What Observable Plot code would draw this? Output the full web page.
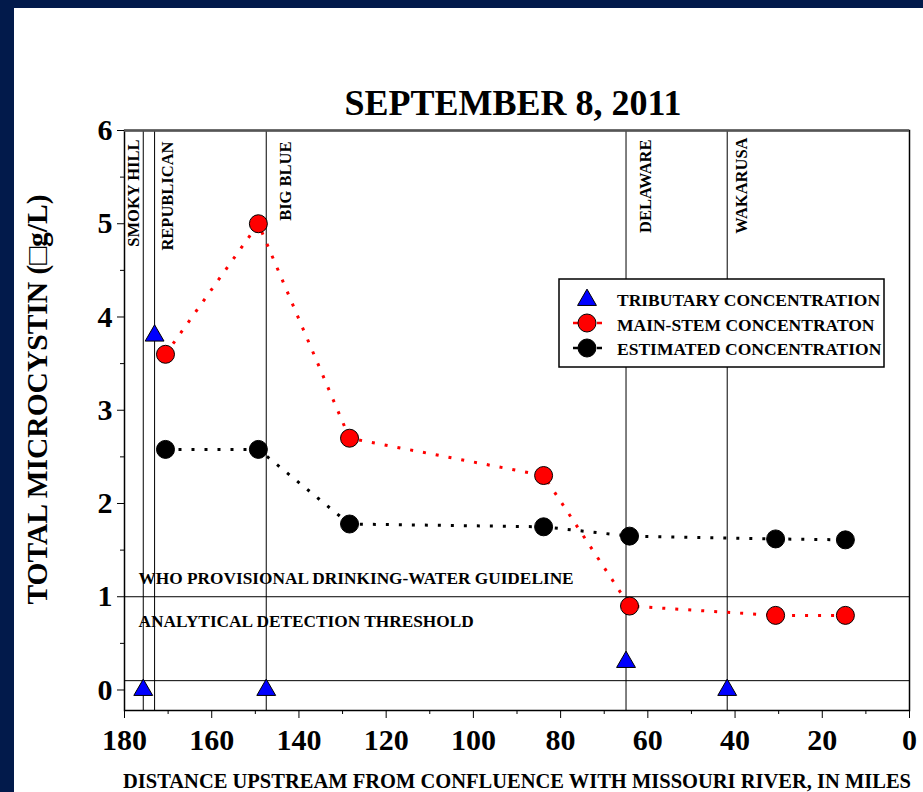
<!DOCTYPE html>
<html><head><meta charset="utf-8">
<script src="https://cdn.jsdelivr.net/npm/d3@7"></script>
<script src="https://cdn.jsdelivr.net/npm/@observablehq/plot@0.6"></script>
<style>
body{margin:0;background:#021a4b;width:923px;height:792px;overflow:hidden;position:relative}
#chart{position:absolute;left:14px;top:8px;width:909px;height:784px;background:#fff}
#chart svg{background:#fff}
</style></head><body><div id="chart"></div>
<script>
const titleText = "SEPTEMBER 8, 2011";
const yLabel = "TOTAL MICROCYSTIN (\u25A1g/L)";
const xLabel = "DISTANCE UPSTREAM FROM CONFLUENCE WITH MISSOURI RIVER, IN MILES";

const riverNames = ["SMOKY HILL", "REPUBLICAN", "BIG BLUE", "DELAWARE", "WAKARUSA"];
const riverMiles = [175.7, 173.1, 147.5, 65.0, 41.8];

const tribMiles = [175.7, 173.1, 147.5, 65.0, 41.8];
const tribValues = [0, 3.8, 0, 0.3, 0];

const mainMiles = [170.6, 149.3, 128.4, 83.9, 64.2, 30.7, 14.7];
const mainValues = [3.6, 5.0, 2.7, 2.3, 0.9, 0.8, 0.8];

const estMiles = [170.6, 149.3, 128.4, 83.9, 64.2, 30.7, 14.7];
const estValues = [2.58, 2.58, 1.78, 1.75, 1.65, 1.62, 1.61];

const guideValues = [1, 0.1];
const guideLabels = ["WHO PROVISIONAL DRINKING-WATER GUIDELINE", "ANALYTICAL DETECTION THRESHOLD"];

const xTicks = [180, 160, 140, 120, 100, 80, 60, 40, 20, 0];
const xMinor = [170, 150, 130, 110, 90, 70, 50, 30, 10];
const yTicks = [0, 1, 2, 3, 4, 5, 6];
const yMinor = [0.5, 1.5, 2.5, 3.5, 4.5, 5.5];

const legendLabels = ["TRIBUTARY CONCENTRATION", "MAIN-STEM CONCENTRATON", "ESTIMATED CONCENTRATION"];

const FONT = "'Liberation Serif', 'Times New Roman', serif";
const trib = tribMiles.map((m, i) => ({m, v: tribValues[i]}));
const main = mainMiles.map((m, i) => ({m, v: mainValues[i]}));
const est = estMiles.map((m, i) => ({m, v: estValues[i]}));
const labelDx = [-10, 13, 19, 20, 15];
const labelDy = [9, 11, 11, 9, 7];

const svg = Plot.plot({
  width: 909, height: 784,
  marginLeft: 110, marginRight: 14, marginTop: 122, marginBottom: 82,
  style: {fontFamily: FONT, fontWeight: "bold", color: "black", background: "white", overflow: "visible"},
  x: {domain: [180, 0]},
  y: {domain: [-0.22, 6]},
  marks: [
    Plot.ruleX(riverMiles, {stroke: "black", strokeWidth: 1}),
    Plot.ruleY(guideValues, {stroke: "black", strokeWidth: 1}),
    ...riverNames.map((name, i) => Plot.text([name], {
      x: [riverMiles[i]], frameAnchor: "top", rotate: -90, textAnchor: "end", lineAnchor: "middle",
      dx: labelDx[i], dy: labelDy[i], fontSize: 16.5, fontWeight: "bold", fill: "black"
    })),
    Plot.text([guideLabels[0]], {y: [guideValues[0]], frameAnchor: "left", textAnchor: "start", dx: 14, dy: -18, fontSize: 17.3, fontWeight: "bold", fill: "black"}),
    Plot.text([guideLabels[1]], {y: [guideValues[0]], frameAnchor: "left", textAnchor: "start", dx: 14, dy: 25, fontSize: 17.3, fontWeight: "bold", fill: "black"}),
    Plot.line(main, {x: "m", y: "v", stroke: "#ff0000", strokeWidth: 3, strokeDasharray: "3,10", strokeLinecap: "butt"}),
    Plot.line(est, {x: "m", y: "v", stroke: "black", strokeWidth: 3, strokeDasharray: "3,10", strokeLinecap: "butt"}),
    Plot.dot(est, {x: "m", y: "v", r: 9, fill: "black", stroke: "black", strokeWidth: 1}),
    Plot.dot(main, {x: "m", y: "v", r: 9, fill: "#ff0000", stroke: "black", strokeWidth: 1}),
    Plot.dot(trib, {x: "m", y: "v", r: 7, symbol: "triangle", fill: "#0000ff", stroke: "black", strokeWidth: 1}),
    Plot.frame({stroke: "black", strokeWidth: 1.5}),
    Plot.ruleY([6], {stroke: "#555", strokeWidth: 2.5}),
    Plot.axisX({ticks: xTicks, tickSize: 8, tickPadding: 10, fontSize: 30, fontWeight: "bold", label: null, tickFormat: d => String(d)}),
    Plot.axisX({ticks: xMinor, tickSize: 4, text: null, label: null}),
    Plot.axisY({ticks: yTicks, tickSize: 7, tickPadding: 5, fontSize: 30, fontWeight: "bold", label: null, tickFormat: d => String(d)}),
    Plot.axisY({ticks: yMinor, tickSize: 4, text: null, label: null}),
    Plot.text([titleText], {frameAnchor: "top", lineAnchor: "middle", dy: -27, dx: -4, fontSize: 36, fontWeight: "bold", fill: "black"}),
    Plot.text([yLabel], {frameAnchor: "left", textAnchor: "middle", lineAnchor: "middle", rotate: -90, dx: -87, dy: -21, fontSize: 29.5, fontWeight: "bold", fill: "black"}),
    Plot.text([xLabel], {frameAnchor: "bottom", lineAnchor: "middle", dy: 71, fontSize: 20.5, fontWeight: "bold", fill: "black"})
  ]
});
document.getElementById("chart").appendChild(svg);

// legend
const g = d3.select(svg).append("g").attr("font-family", FONT).attr("font-weight", "bold").attr("text-anchor", "start");
g.append("rect").attr("x", 545).attr("y", 271).attr("width", 325).attr("height", 88)
  .attr("fill", "white").attr("stroke", "black").attr("stroke-width", 1.5);
const sym = d3.symbol().type(d3.symbolTriangle).size(Math.PI * 49);
g.append("path").attr("d", sym()).attr("transform", "translate(573,292)")
  .attr("fill", "#0000ff").attr("stroke", "black");
g.append("line").attr("x1", 559).attr("x2", 591).attr("y1", 315).attr("y2", 315)
  .attr("stroke", "#ff0000").attr("stroke-width", 2.5).attr("stroke-dasharray", "5,3");
g.append("circle").attr("cx", 573).attr("cy", 315).attr("r", 9).attr("fill", "#ff0000").attr("stroke", "black");
g.append("line").attr("x1", 559).attr("x2", 591).attr("y1", 340).attr("y2", 340)
  .attr("stroke", "black").attr("stroke-width", 2.5).attr("stroke-dasharray", "5,3");
g.append("circle").attr("cx", 573).attr("cy", 340).attr("r", 9).attr("fill", "black").attr("stroke", "black");
legendLabels.forEach((t, i) => {
  g.append("text").attr("x", 603).attr("y", 298 + i * 24.5).attr("font-size", 17.5).attr("fill", "black").text(t);
});
</script></body></html>
